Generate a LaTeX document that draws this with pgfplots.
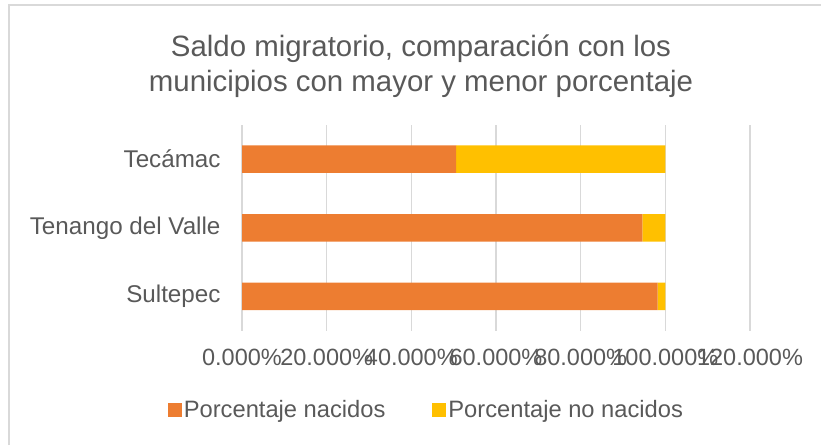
\documentclass[border=0pt]{standalone}
\usepackage{fontspec}
\setmainfont{Liberation Sans}
\usepackage{pgfplots}
\pgfplotsset{compat=1.18}
\definecolor{cOrange}{HTML}{ED7D31}
\definecolor{cYellow}{HTML}{FFC000}
\definecolor{cText}{HTML}{595959}
\definecolor{cGrid}{HTML}{D9D9D9}
\begin{document}
\begin{tikzpicture}
\useasboundingbox (0pt,0pt) rectangle (821pt,445pt);
\draw[cGrid, line width=1.2pt] (9pt,0pt) -- (9pt,440pt) -- (821pt,440pt);
\node[anchor=base, text=cText, font=\fontsize{29.4}{35}\selectfont] at (421pt,388pt) {Saldo migratorio, comparación con los};
\node[anchor=base, text=cText, font=\fontsize{29.4}{35}\selectfont] at (421pt,353pt) {municipios con mayor y menor porcentaje};
\begin{axis}[
  at={(242pt,114.25pt)}, anchor=south west,
  scale only axis, width=508pt, height=206pt,
  xbar stacked, bar width=27.5pt,
  xmin=0, xmax=120, ymin=-0.5, ymax=2.5,
  xtick={0,20,40,60,80,100,120},
  xticklabels={0.000\%,20.000\%,40.000\%,60.000\%,80.000\%,100.000\%,120.000\%},
  ytick={0,1,2},
  yticklabels={Sultepec,Tenango del Valle,Tecámac},
  xticklabel style={text=cText, font=\fontsize{23.5}{28}\selectfont, yshift=-15pt},
  yticklabel style={text=cText, font=\fontsize{24.2}{29}\selectfont, xshift=-18pt},
  major tick length=0pt,
  xmajorgrids, grid style={cGrid, line width=1.2pt},
  axis line style={draw=none},
  legend columns=2,
  legend style={at={(0.363,-0.385)}, anchor=center, draw=none, fill=none,
    font=\fontsize{23.7}{28}\selectfont, text=cText,
    /tikz/every even column/.append style={column sep=45pt}},
  legend image code/.code={\fill[#1] (-5pt,-7pt) rectangle (9pt,7pt);},
]
\addplot[fill=cOrange, draw=none] coordinates {(98.2,0) (94.6,1) (50.6,2)};
\addplot[fill=cYellow, draw=none] coordinates {(1.8,0) (5.4,1) (49.4,2)};
\legend{Porcentaje nacidos, Porcentaje no nacidos}
\end{axis}
\end{tikzpicture}
\end{document}
